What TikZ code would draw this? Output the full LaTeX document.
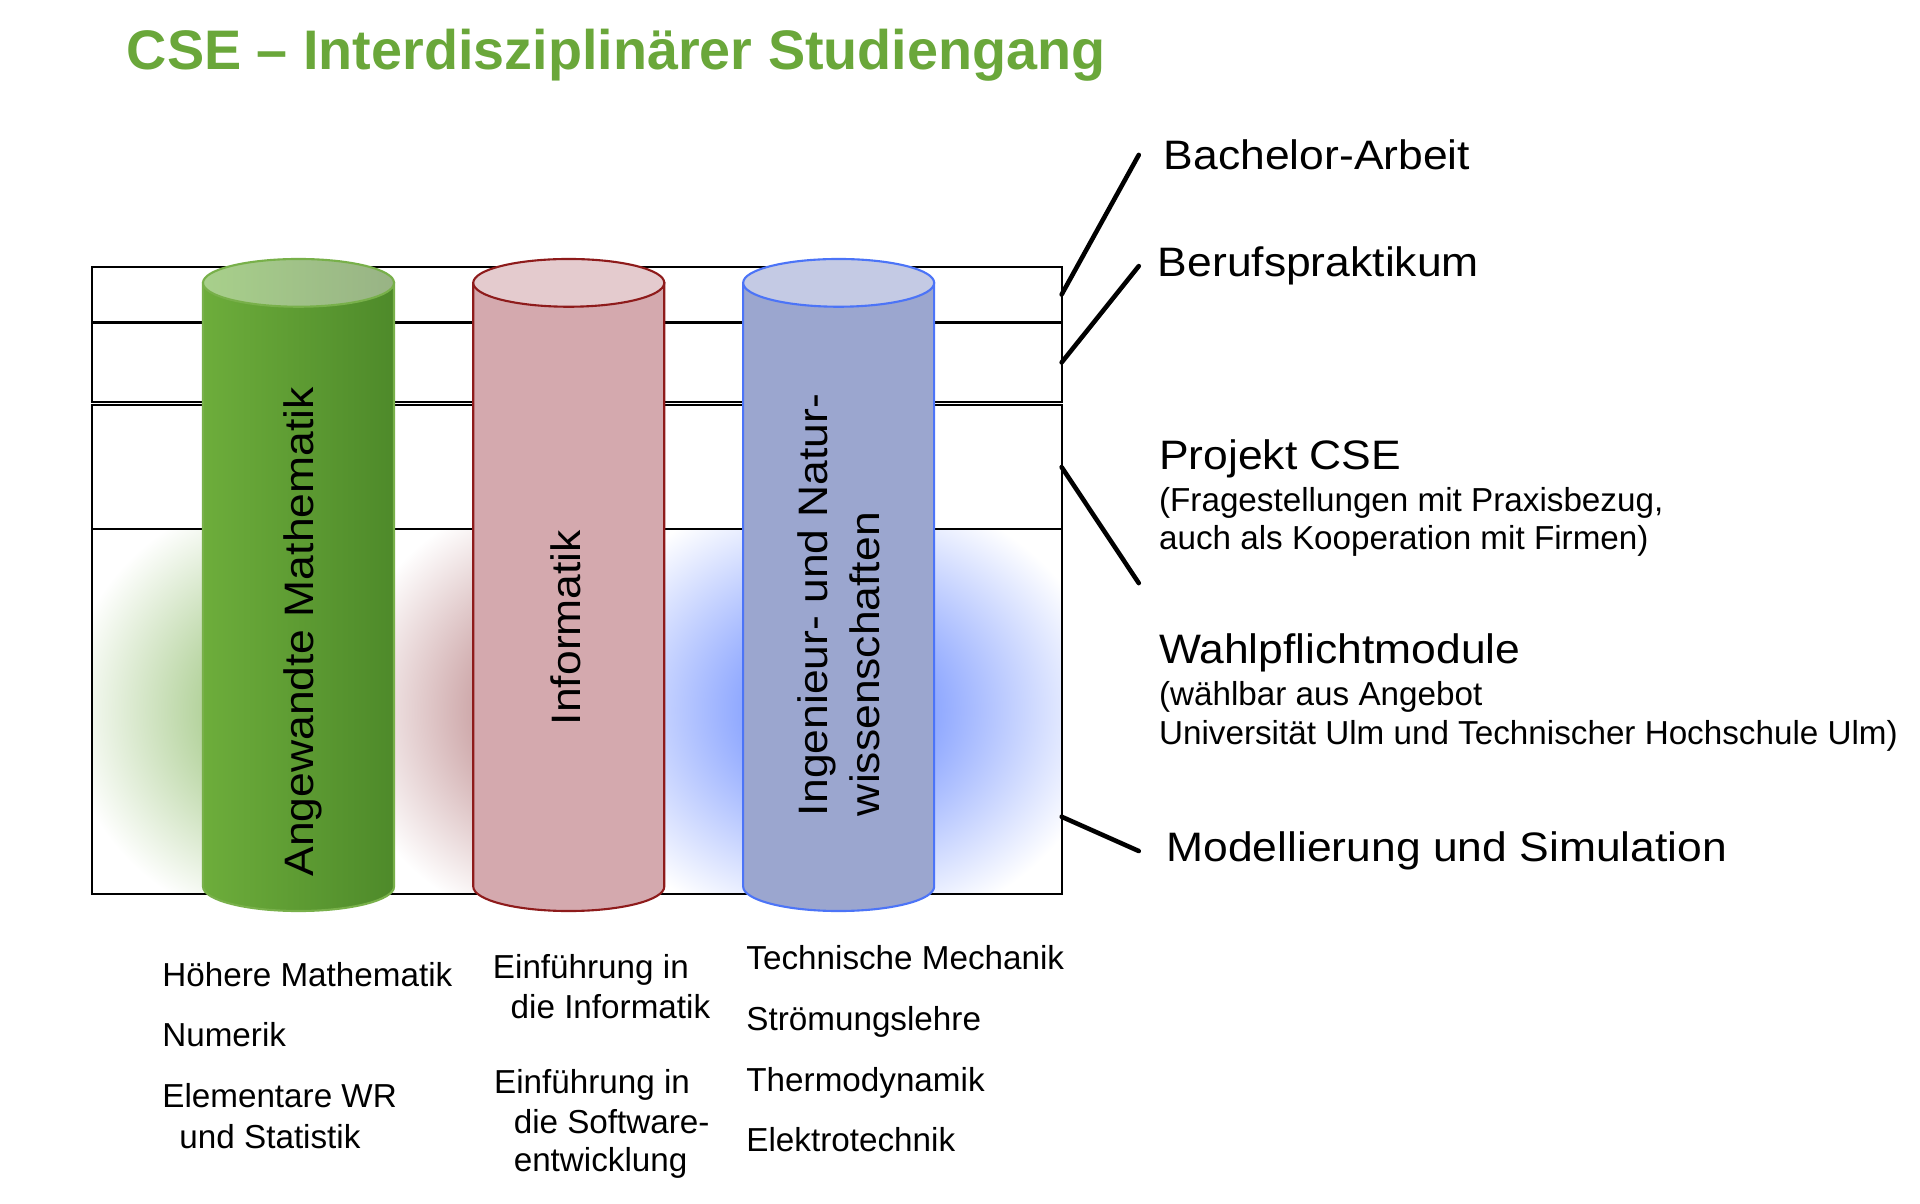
\documentclass[tikz,border=0pt]{standalone}
\usepackage{fontspec}
\setmainfont{Liberation Sans}
\newfontfamily\widesans[FakeStretch=1.08]{Liberation Sans}
\usepackage{tikz}
\usetikzlibrary{positioning}
\definecolor{titlegreen}{HTML}{6AA73A}
\definecolor{mathL}{HTML}{6DAD3B}
\definecolor{mathR}{HTML}{4E8A2A}
\definecolor{mathtopL}{HTML}{A8D08B}
\definecolor{mathtopR}{HTML}{98B385}
\definecolor{mathrim}{HTML}{78B04A}
\definecolor{infobody}{HTML}{D4A9AE}
\definecolor{infotop}{HTML}{E4CBCE}
\definecolor{inforim}{HTML}{8E1B1B}
\definecolor{engbody}{HTML}{9BA6CF}
\definecolor{engtop}{HTML}{C4CAE4}
\definecolor{engrim}{HTML}{4C74F7}
\definecolor{glowG}{HTML}{A9CC8E}
\definecolor{glowR}{HTML}{C69A9C}
\definecolor{glowB}{HTML}{8AA4FF}
\pgfdeclareradialshading{glowgreen}{\pgfpoint{0bp}{0bp}}
  {color(0bp)=(glowG); color(8bp)=(glowG); color(25bp)=(white); color(50bp)=(white)}
\pgfdeclareradialshading{glowred}{\pgfpoint{0bp}{0bp}}
  {color(0bp)=(glowR); color(8bp)=(glowR); color(25bp)=(white); color(50bp)=(white)}
\pgfdeclareradialshading{glowblue}{\pgfpoint{0bp}{0bp}}
  {color(0bp)=(glowB); color(8bp)=(glowB); color(25bp)=(white); color(50bp)=(white)}
\newcommand{\unitpx}{0.012245cm}
% pillar: centre x, body style, top style, rim colour
\newcommand{\drawpillar}[4]{%
  \path[#2, draw=#4, line width=0.6pt] (#1-78,231) -- (#1-78,724)
     arc[start angle=180, end angle=0, x radius=78, y radius=20] -- (#1+78,231) -- cycle;
  \path[#3, draw=#4, line width=0.6pt] (#1,231) ellipse [x radius=78, y radius=19.5];
}
\tikzset{
  band/.style={draw=black, line width=0.5pt, inner sep=0pt, outer sep=0pt,
               minimum width=792*\unitpx},
  big/.style={font=\widesans\fontsize{11.7}{15}\selectfont, inner sep=0pt},
  small/.style={font=\fontsize{9.45}{11}\selectfont, inner sep=0pt, anchor=base west},
  leader/.style={line width=1.3pt, line cap=round},
}

\begin{document}
\begin{tikzpicture}[x=\unitpx, y=-\unitpx]
\useasboundingbox (0,0) rectangle (1568,983);

% ------------------------- title ----------------------------------------
\node[anchor=base west, inner sep=0pt, text=titlegreen,
      font=\fontsize{15.85}{18}\selectfont\bfseries] at (103,57) (title)
   {CSE -- Interdisziplinärer Studiengang};

% ------------------------- glow behind the pillars ----------------------
\begin{scope}
  \clip (75,432) rectangle (322,730);
  \shade[shading=glowgreen] (243.8,580) ellipse [x radius=190, y radius=180];
\end{scope}
\begin{scope}
  \clip (322,432) rectangle (542,730);
  \shade[shading=glowred] (464.5,580) ellipse [x radius=185, y radius=180];
\end{scope}
\begin{scope}
  \clip (542,432) rectangle (867,730);
  \shade[shading=glowblue] (684.9,580) ellipse [x radius=220, y radius=185];
\end{scope}

% ------------------------- bands ----------------------------------------
\node[band, minimum height=45*\unitpx]  at (471,240.5) (b1) {};
\node[band, minimum height=64*\unitpx]  at (471,296)   (b2) {};
\node[band, minimum height=101*\unitpx] at (471,381.5) (b3) {};
\node[band, minimum height=298*\unitpx] at (471,581)   (b4) {};

% ------------------------- pillars --------------------------------------
\drawpillar{243.8}{left color=mathL, right color=mathR}{left color=mathtopL, right color=mathtopR}{mathrim}
\drawpillar{464.5}{fill=infobody}{fill=infotop}{inforim}
\drawpillar{684.9}{fill=engbody}{fill=engtop}{engrim}

\node[big, rotate=90, anchor=base] at (256,516) (mathlbl) {Angewandte Mathematik};
\node[big, rotate=90, anchor=base] at (474,512.5) (infolbl) {Informatik};
\node[big, rotate=90, anchor=west, align=left] at (685,667) (englbl)
   {Ingenieur- und Natur-\\wissenschaften};

% ------------------------- right labels ---------------------------------
\node[big, anchor=base west] at (950,138.5) (ba) {Bachelor-Arbeit};
\node[big, anchor=base west] at (945,226)   (bp) {Berufspraktikum};
\node[big, anchor=base west] at (946,383.8) (pj) {Projekt CSE};
\node[small] at (946,418) (pjtxt1) {(Fragestellungen mit Praxisbezug,};
\node[small] at (946,449) (pjtxt2) {auch als Kooperation mit Firmen)};
\node[big, anchor=base west] at (946,541.7) (wp) {Wahlpflichtmodule};
\node[small] at (946,576) (wptxt1) {(wählbar aus Angebot};
\node[small] at (946,608) (wptxt2) {Universität Ulm und Technischer Hochschule Ulm)};
\node[big, anchor=base west] at (952,703.7) (ms) {Modellierung und Simulation};

\draw[leader] (b1.east) -- ([shift={(-20,0)}]ba.west);
\draw[leader] (b2.east) -- ([shift={(-15,0)}]bp.west);
\draw[leader] (b3.east) -- ([shift={(-16,21)}]pjtxt2.south west);
\draw[leader] ([shift={(0,-63)}]b4.south east) -- ([shift={(-22,0)}]ms.west);

% ------------------------- course lists ---------------------------------
\node[small] at (132,805.5) (hm)  {Höhere Mathematik};
\node[small] at (132,855)   (nu)  {Numerik};
\node[small] at (132,904.5) (ew)  {Elementare WR};
\node[small] at (146,938)   (ew2) {und Statistik};

\node[small] at (402,799)   (ei)   {Einführung in};
\node[small] at (416.5,831.6) (ei2) {die Informatik};
\node[small] at (403,893)   (es)   {Einführung in};
\node[small] at (419,925.5) (es2)  {die Software-};
\node[small] at (419,957)   (es3)  {entwicklung};

\node[small] at (609,792)   (tm) {Technische Mechanik};
\node[small] at (609,841.7) (sl) {Strömungslehre};
\node[small] at (609,891.5) (td) {Thermodynamik};
\node[small] at (609,940.5) (et) {Elektrotechnik};
\end{tikzpicture}
\end{document}
